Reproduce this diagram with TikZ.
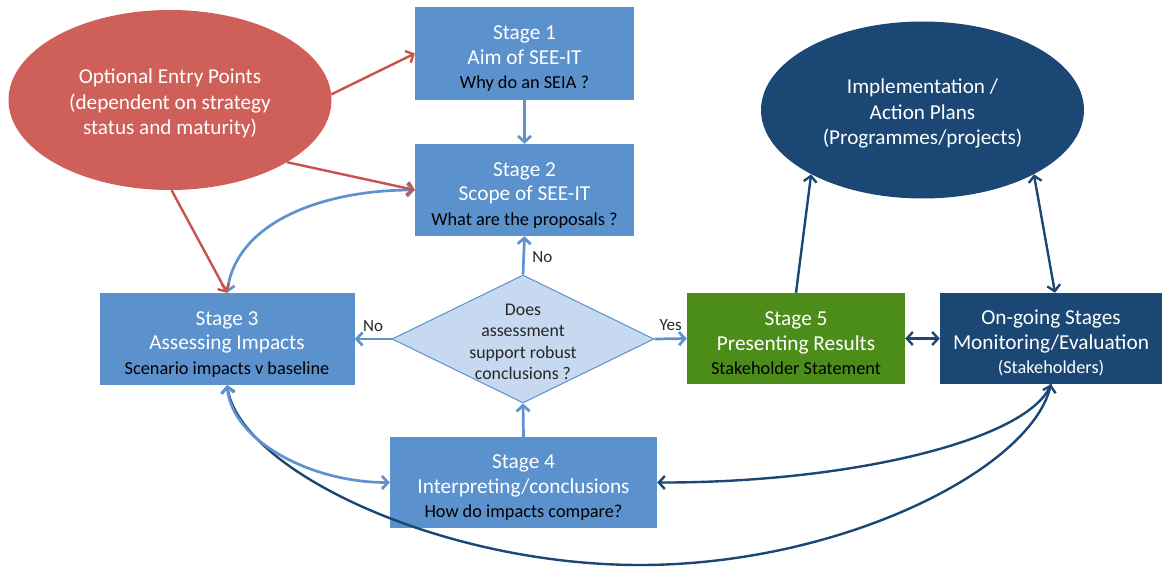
\documentclass[tikz,border=0pt]{standalone}
\usepackage{fontspec}
\setmainfont{Carlito}
\usetikzlibrary{shapes.geometric,arrows.meta}
\definecolor{boxblue}{RGB}{91,145,204}
\definecolor{arrblue}{RGB}{95,146,206}
\definecolor{entryred}{RGB}{206,96,89}
\definecolor{arrred}{RGB}{200,82,76}
\definecolor{stgreen}{RGB}{76,141,26}
\definecolor{navy}{RGB}{26,71,116}
\definecolor{diafill}{RGB}{198,217,240}
\newcommand{\subline}{\fontsize{18.3}{24.5}\selectfont}
\newcommand{\bstrut}{\rule{0pt}{24pt}}
\newcommand{\estrut}{\rule{0pt}{22pt}}
\tikzset{
  stagebox/.style={rectangle, fill=boxblue, text=white, inner sep=0pt, align=center,
    font=\fontsize{21.3}{24.5}\selectfont},
  bigfont/.style={font=\fontsize{21.2}{25.5}\selectfont},
  bluearr/.style={draw=arrblue, line width=2.7pt, -{Straight Barb[length=6pt,width=13pt]}},
  redarr/.style={draw=arrred, line width=2.4pt, -{Straight Barb[length=6pt,width=13pt]}},
  navyarr/.style={draw=navy, line width=2.4pt, -{Straight Barb[length=6pt,width=13pt]}},
  both/.style={{Straight Barb[length=6pt,width=13pt]}-{Straight Barb[length=6pt,width=13pt]}},
  lbl/.style={font=\fontsize{17}{20}\selectfont, text=black!85},
}
\begin{document}
\begin{tikzpicture}[x=1pt,y=-1pt]
\useasboundingbox (0,0) rectangle (1162,567);
% nodes
\node[ellipse, fill=entryred, text=white, minimum width=323pt, minimum height=180pt, inner sep=0pt, align=center, bigfont] (entry) at (170,100)
  {\estrut Optional Entry Points\\(dependent on strategy\\status and maturity)};
\node[stagebox, minimum width=219pt, minimum height=93pt] (s1) at (524.5,53.5)
  {\bstrut Stage 1\\Aim of SEE-IT\\{\subline\color{black}Why do an SEIA ?}};
\node[stagebox, minimum width=219pt, minimum height=92pt] (s2) at (524.5,190)
  {\bstrut Stage 2\\Scope of SEE-IT\\{\subline\color{black}What are the proposals ?}};
\node[stagebox, minimum width=255pt, minimum height=92pt] (s3) at (227,339)
  {\bstrut Stage 3\\Assessing Impacts\\{\subline\color{black}Scenario impacts v baseline}};
\node[diamond, fill=diafill, draw=boxblue, line width=1pt, minimum width=262pt, minimum height=128pt, inner sep=0pt] (dec) at (523,339) {};
\node[align=center, text=black!85, font=\fontsize{17.8}{21.5}\selectfont] (dectext) at (523,342)
  {Does\\assessment\\support robust\\conclusions ?};
\node[stagebox, minimum width=267pt, minimum height=91pt] (s4) at (523.5,482.5)
  {\bstrut Stage 4\\Interpreting/conclusions\\{\subline\color{black}How do impacts compare?}};
\node[stagebox, fill=stgreen, minimum width=218pt, minimum height=91pt] (s5) at (796,338.5)
  {\bstrut Stage 5\\Presenting Results\\{\subline\color{black}Stakeholder Statement}};
\node[stagebox, fill=navy, minimum width=222pt, minimum height=91pt] (og) at (1051,338.5)
  {\bstrut On-going Stages\\Monitoring/Evaluation\\{\subline(Stakeholders)}};
\node[ellipse, fill=navy, text=white, minimum width=323pt, minimum height=177pt, inner sep=0pt, align=center, bigfont] (impl) at (922.5,110)
  {\estrut Implementation /\\Action Plans\\(Programmes/projects)};
\coordinate (lowmid) at (640,565);
% blue arrows
\draw[bluearr] (s1.south) -- (s2.north);
\draw[bluearr] (dec.north) -- node[lbl, right=4pt, pos=0.45] (nolbl1) {No} (s2.south);
\draw[bluearr] (dec.west) -- node[lbl, above=3pt] (nolbl2) {No} (s3.east);
\draw[bluearr] (dec.east) -- node[lbl, above=3pt] (yeslbl) {Yes} (s5.west);
\draw[bluearr] (s4.north) -- (dec.south);
% navy arrows
\draw[navyarr, both] (s3.south) .. controls (240,470) and (440,565) .. (lowmid) .. controls (840,565) and (1030,470) .. (og.south);
\draw[navyarr] (og.south) .. controls (1030,440) and (850,483) .. (s4.east);
\draw[navyarr, both] (s5.east) -- (og.west);
\draw[navyarr] (s5.north) -- (impl.-150);
\draw[navyarr, both] (impl.-30) -- ([xshift=4pt]og.north);
% blue curved double arrows
\draw[bluearr, both] (s3.north) .. controls +(10,-72) and +(-90,0) .. (s2.west);
\draw[bluearr, both] (s3.south) .. controls +(5,55) and +(-80,0) .. (s4.west);
% red arrows
\draw[redarr] (entry.2) -- (s1.west);
\draw[redarr] (entry.-28.5) -- (s2.west);
\draw[redarr] (entry.-89) -- (s3.north);
\end{tikzpicture}
\end{document}
